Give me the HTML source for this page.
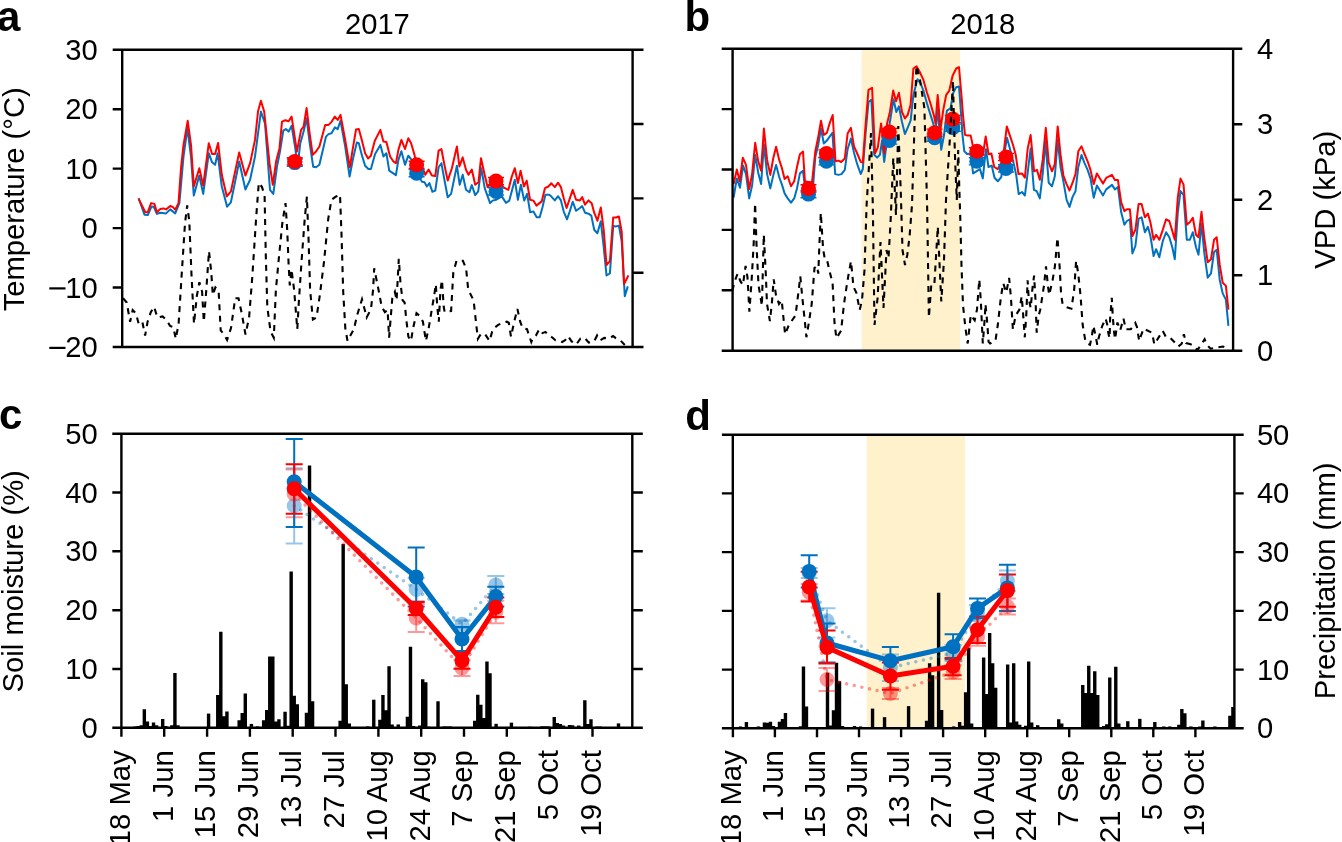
<!DOCTYPE html>
<html><head><meta charset="utf-8"><style>html,body{margin:0;padding:0;background:#fff;width:1342px;height:842px;overflow:hidden}svg{display:block;will-change:transform}</style></head>
<body><svg width="1342" height="842" viewBox="0 0 1342 842"><rect x="0" y="0" width="1342" height="842" fill="#fff"/>
<rect x="861.6" y="48.7" width="98.6" height="302.0" fill="#FEF1CC"/>
<rect x="866.7" y="434.7" width="98.3" height="293.6" fill="#FEF1CC"/>
<path d="M138.6,198.1 L144.5,214.7 L147.8,215.1 L151.6,206.4 L153.6,206.7 L156.9,213.9 L160.3,212.7 L166.1,213.4 L170.2,209.4 L175.2,213.4 L179.4,203.1 L183.5,156.5 L187.4,128.3 L191.0,156.5 L193.8,195.6 L199.3,175.6 L203.2,193.9 L208.8,153.2 L212.1,162.3 L215.1,164.8 L217.6,153.2 L221.8,186.5 L227.1,206.7 L230.9,202.3 L239.2,161.5 L245.4,189.5 L250.1,179.8 L255.0,156.5 L260.9,111.6 L265.0,123.3 L270.0,189.8 L273.3,193.9 L277.0,166.5 L280.0,151.5 L283.3,130.7 L285.8,129.1 L288.6,131.6 L291.6,125.8 L295.3,148.2 L297.4,168.2 L300.3,143.2 L303.6,131.6 L306.6,118.3 L309.7,143.2 L313.2,166.8 L316.0,167.3 L319.4,164.8 L326.0,136.6 L328.5,134.1 L331.5,133.2 L334.8,127.4 L337.7,129.1 L340.5,120.8 L345.2,146.5 L349.6,176.5 L353.1,158.2 L356.8,142.4 L358.8,143.2 L361.8,154.9 L365.1,165.7 L368.4,169.0 L370.9,169.0 L375.1,154.0 L380.4,144.9 L383.4,156.5 L386.4,153.2 L389.2,170.7 L395.9,175.1 L398.4,159.8 L401.4,151.2 L405.0,164.8 L408.3,155.7 L411.6,159.8 L416.1,171.5 L418.6,176.5 L422.0,181.8 L424.5,182.3 L426.9,186.5 L429.4,183.1 L432.4,191.8 L435.3,190.6 L438.6,167.3 L441.4,163.2 L444.4,179.8 L447.7,197.3 L451.1,193.9 L456.9,165.7 L459.7,184.8 L462.7,174.8 L466.0,189.8 L469.4,192.3 L471.8,185.1 L475.2,195.1 L478.2,191.4 L481.3,168.2 L484.7,188.1 L490.1,203.1 L492.6,200.6 L496.0,199.8 L501.8,196.4 L505.9,202.8 L509.3,200.6 L514.8,179.8 L517.9,199.8 L520.9,184.8 L524.2,200.6 L527.1,193.9 L530.1,212.2 L533.4,211.4 L536.7,217.2 L539.7,217.2 L542.5,207.2 L545.4,194.8 L549.2,194.8 L551.4,196.6 L554.8,200.4 L558.1,196.2 L560.9,200.4 L563.8,211.8 L567.0,219.4 L569.8,211.2 L572.7,201.7 L576.1,210.8 L579.9,208.0 L582.2,206.1 L585.0,212.7 L588.5,213.7 L591.3,215.6 L594.2,229.8 L597.4,233.2 L600.8,221.3 L603.7,246.9 L606.5,275.4 L609.9,273.5 L613.2,226.0 L616.0,226.4 L618.9,225.6 L621.7,241.2 L624.8,296.3 L627.8,286.4" fill="none" stroke="#0070C0" stroke-width="2" stroke-linejoin="round"/>
<path d="M138.6,198.9 L145.3,212.2 L147.8,212.2 L151.1,203.1 L154.4,203.9 L156.9,212.2 L160.3,208.9 L163.6,208.4 L166.1,209.4 L170.2,205.9 L172.7,206.9 L175.2,209.7 L178.5,203.1 L181.0,168.2 L183.5,144.9 L187.7,120.8 L191.0,144.9 L193.8,186.5 L199.3,168.2 L203.2,185.6 L208.8,143.2 L212.1,154.0 L215.1,154.0 L218.1,142.9 L221.8,174.8 L226.8,196.4 L230.9,191.4 L239.2,152.4 L245.4,175.6 L250.1,163.2 L255.0,139.9 L258.0,111.6 L260.9,100.8 L264.2,111.6 L269.5,163.2 L272.8,184.8 L276.1,161.5 L279.5,148.2 L282.0,121.6 L285.3,120.3 L288.6,121.3 L291.6,116.6 L294.4,134.9 L296.9,151.5 L301.1,129.9 L303.6,126.6 L306.6,108.0 L309.4,131.6 L312.7,154.9 L316.0,151.5 L319.4,146.5 L325.2,124.9 L328.5,124.9 L331.8,121.6 L334.8,116.6 L337.7,119.9 L340.5,114.9 L345.2,139.9 L349.8,167.3 L352.6,149.9 L356.0,129.6 L358.8,129.1 L361.8,139.9 L365.1,153.2 L368.1,158.5 L370.9,155.7 L374.8,140.7 L380.4,129.9 L383.4,141.6 L386.4,141.9 L390.1,156.5 L393.4,161.5 L395.9,163.2 L398.4,149.9 L401.4,139.9 L405.0,149.0 L408.3,138.2 L411.1,143.2 L414.5,154.9 L416.1,163.2 L422.0,166.5 L425.3,174.8 L428.6,169.5 L431.9,175.6 L435.3,176.1 L438.6,150.7 L441.4,149.0 L444.4,164.8 L447.7,180.6 L451.9,168.2 L456.9,146.5 L459.4,166.5 L462.7,157.4 L466.0,169.8 L468.5,174.8 L471.8,169.5 L475.2,184.8 L478.5,182.3 L481.0,158.2 L484.3,173.2 L487.6,187.3 L491.8,183.1 L500.1,183.1 L503.4,187.3 L508.4,189.8 L511.8,176.5 L514.8,168.2 L517.9,183.1 L520.6,170.7 L523.9,186.5 L526.7,180.6 L530.1,199.8 L533.4,200.6 L536.4,205.6 L541.7,201.4 L545.0,188.1 L548.3,186.5 L551.4,183.3 L554.8,187.1 L558.1,182.7 L560.9,187.1 L563.8,198.5 L566.6,208.0 L569.5,199.4 L572.7,189.9 L576.1,199.8 L579.9,200.4 L582.2,197.1 L585.0,204.7 L588.5,200.4 L591.7,203.2 L594.2,212.7 L597.4,220.7 L600.8,207.4 L603.7,229.8 L606.5,265.0 L609.9,261.2 L613.2,217.5 L616.0,217.5 L618.9,216.5 L621.7,231.7 L624.0,284.0 L626.5,279.2 L628.4,275.4" fill="none" stroke="#FF0000" stroke-width="2" stroke-linejoin="round"/>
<g stroke="#0070C0" stroke-width="1.4"><path d="M286.8,159.0 h16 M286.8,166.2 h16 M294.8,159.0 V166.2"/></g>
<circle cx="294.8" cy="162.6" r="7.5" fill="#0070C0"/>
<g stroke="#0070C0" stroke-width="1.4"><path d="M408.6,169.6 h16 M408.6,176.8 h16 M416.6,169.6 V176.8"/></g>
<circle cx="416.6" cy="173.2" r="7.5" fill="#0070C0"/>
<g stroke="#0070C0" stroke-width="1.4"><path d="M488.0,187.8 h16 M488.0,195.0 h16 M496.0,187.8 V195.0"/></g>
<circle cx="496.0" cy="191.4" r="7.5" fill="#0070C0"/>
<g stroke="#FF0000" stroke-width="1.4"><path d="M286.8,157.8 h16 M286.8,165.0 h16 M294.8,157.8 V165.0"/></g>
<circle cx="294.8" cy="161.4" r="7.5" fill="#FF0000"/>
<g stroke="#FF0000" stroke-width="1.4"><path d="M408.6,161.2 h16 M408.6,168.4 h16 M416.6,161.2 V168.4"/></g>
<circle cx="416.6" cy="164.8" r="7.5" fill="#FF0000"/>
<g stroke="#FF0000" stroke-width="1.4"><path d="M488.0,177.5 h16 M488.0,184.7 h16 M496.0,177.5 V184.7"/></g>
<circle cx="496.0" cy="181.1" r="7.5" fill="#FF0000"/>
<path d="M123.1,298.2 L126.7,302.5 L130.1,321.7 L132.7,310.0 L135.9,313.2 L138.7,323.8 L142.3,321.7 L145.1,335.6 L147.6,321.7 L150.8,312.1 L154.1,306.8 L157.3,317.4 L162.6,316.4 L166.9,320.6 L170.1,326.0 L173.3,327.1 L175.8,338.8 L178.6,323.8 L181.8,272.6 L185.0,223.4 L187.2,205.3 L189.3,221.3 L191.4,272.6 L194.0,323.8 L196.8,296.1 L199.4,282.2 L202.1,291.8 L203.8,321.7 L206.0,293.9 L209.0,251.2 L211.3,272.6 L212.8,295.0 L215.4,287.5 L218.6,290.7 L220.7,330.3 L224.1,334.5 L227.1,339.9 L231.0,328.1 L235.2,298.2 L238.5,298.2 L241.7,313.2 L245.5,334.5 L249.1,317.4 L252.3,276.8 L256.2,217.0 L258.8,182.8 L262.0,187.1 L264.6,195.6 L265.8,255.5 L267.3,306.8 L270.5,331.3 L273.8,337.7 L275.9,289.7 L279.1,255.5 L282.3,223.4 L285.5,203.1 L287.2,229.8 L288.7,266.2 L289.8,285.4 L291.5,269.4 L294.1,289.7 L297.3,329.2 L298.8,302.5 L301.5,261.9 L304.7,219.1 L306.9,196.7 L308.6,240.5 L310.1,289.7 L312.9,319.6 L316.5,317.4 L319.7,296.1 L324.0,261.9 L328.2,219.1 L331.4,199.9 L335.7,196.7 L340.0,194.6 L341.5,234.1 L343.2,291.8 L345.3,328.1 L347.5,340.9 L353.9,329.2 L357.1,315.3 L362.0,299.3 L366.7,317.4 L371.0,308.9 L373.1,289.7 L374.2,268.3 L378.5,289.7 L381.7,306.8 L384.9,312.1 L387.6,310.0 L389.1,337.7 L392.3,298.2 L394.9,291.8 L396.6,300.3 L398.8,258.7 L400.5,283.2 L402.6,300.3 L404.6,302.5 L406.3,319.6 L408.4,336.7 L411.0,340.9 L413.1,328.1 L416.5,313.2 L420.2,316.4 L422.9,321.7 L425.9,340.9 L428.7,328.1 L431.9,308.9 L434.1,296.1 L435.8,284.3 L437.3,306.8 L438.8,321.7 L440.5,289.7 L442.0,280.0 L443.7,306.8 L444.7,312.1 L451.1,311.0 L453.3,272.6 L456.5,260.8 L462.9,260.8 L466.1,268.3 L468.2,289.7 L470.4,293.9 L473.6,300.3 L476.4,326.0 L477.9,338.8 L481.1,333.5 L485.3,334.5 L489.6,340.9 L492.8,329.2 L498.2,324.9 L502.4,322.8 L506.7,321.7 L508.8,322.8 L511.0,336.7 L514.2,321.7 L517.4,308.9 L520.2,321.7 L522.7,328.1 L527.0,329.2 L531.3,342.0 L533.0,337.9 L535.9,335.5 L539.3,329.3 L542.5,333.1 L545.4,331.9 L547.8,334.3 L552.0,337.3 L555.5,340.3 L559.1,340.9 L562.1,342.0 L565.0,340.3 L568.0,336.1 L571.6,341.4 L576.3,344.4 L580.5,338.5 L584.6,337.9 L588.8,342.6 L594.1,341.4 L597.1,335.5 L600.1,340.3 L604.2,337.9 L609.0,338.5 L613.1,336.1 L615.5,337.9 L620.3,340.3 L624.8,345.0" fill="none" stroke="#000" stroke-width="2.1" stroke-dasharray="6 5.5"/>
<path d="M733.6,197.7 L736.8,178.4 L740.0,187.7 L743.1,165.6 L746.0,174.1 L749.2,198.4 L752.1,185.5 L755.2,154.9 L758.2,172.7 L761.1,184.1 L763.9,144.2 L767.1,174.1 L770.3,188.4 L773.2,175.6 L776.1,164.9 L779.2,177.0 L782.0,184.8 L784.6,193.4 L787.7,198.4 L791.0,202.7 L794.2,198.4 L797.0,188.4 L799.9,173.4 L803.0,170.9 L805.6,192.7 L809.8,198.4 L812.7,191.2 L815.3,157.0 L818.1,145.6 L821.0,128.5 L823.8,143.5 L826.9,140.6 L829.8,136.4 L832.4,132.8 L835.2,174.1 L838.4,174.9 L841.5,174.1 L844.8,169.9 L847.6,149.2 L850.9,138.5 L854.0,152.8 L857.2,164.2 L860.7,174.0 L862.8,169.0 L865.7,132.0 L868.5,102.0 L871.4,99.9 L874.2,154.8 L877.1,157.6 L879.9,154.8 L882.1,140.5 L884.2,161.9 L887.8,134.8 L890.6,117.7 L893.5,99.2 L896.3,112.0 L898.9,106.3 L902.0,122.0 L904.9,134.1 L907.7,127.7 L910.6,120.6 L913.4,94.9 L917.4,79.2 L920.6,83.5 L923.4,90.6 L927.0,103.5 L930.5,114.9 L934.1,126.3 L935.5,132.0 L937.7,109.2 L941.2,149.8 L944.1,134.8 L946.9,110.6 L950.5,108.4 L953.3,92.8 L956.2,87.1 L959.0,86.4 L961.9,124.8 L962.1,131.4 L964.3,151.3 L967.1,153.9 L970.7,153.5 L973.1,173.4 L976.4,171.3 L980.0,169.1 L982.8,178.4 L985.9,149.2 L988.5,167.0 L991.7,165.6 L994.5,177.7 L997.8,181.3 L1001.3,177.0 L1004.2,154.2 L1007.0,137.8 L1010.6,151.3 L1014.2,165.6 L1016.3,175.6 L1018.7,194.1 L1022.0,192.0 L1024.9,195.5 L1027.7,172.7 L1030.6,148.5 L1033.9,189.8 L1036.7,191.2 L1039.8,198.4 L1042.7,174.1 L1045.5,141.3 L1048.7,182.7 L1052.0,186.3 L1054.8,176.3 L1057.7,139.9 L1060.5,167.0 L1063.4,181.3 L1066.6,199.8 L1069.5,206.9 L1072.6,196.9 L1075.5,191.2 L1078.3,167.0 L1081.5,154.9 L1084.3,162.7 L1087.6,169.9 L1090.5,178.4 L1093.7,197.7 L1096.9,185.5 L1103.0,195.4 L1106.2,189.4 L1112.0,184.9 L1114.9,189.4 L1117.9,186.9 L1121.2,212.3 L1124.4,224.8 L1126.9,221.0 L1129.9,219.3 L1132.4,253.5 L1135.4,246.0 L1138.6,218.6 L1141.6,217.3 L1144.9,232.3 L1147.9,226.8 L1150.4,236.0 L1153.6,256.0 L1156.1,249.2 L1159.3,257.2 L1162.8,241.0 L1166.1,232.3 L1169.3,237.3 L1172.3,247.2 L1174.8,259.2 L1177.8,212.3 L1180.5,191.1 L1183.5,194.9 L1186.8,239.8 L1189.8,239.8 L1192.8,232.3 L1196.0,247.2 L1198.5,254.7 L1201.5,223.5 L1204.2,252.2 L1207.7,277.7 L1211.0,273.4 L1214.0,252.2 L1216.7,249.7 L1219.7,279.7 L1222.7,293.4 L1225.9,299.6 L1228.4,325.8" fill="none" stroke="#0070C0" stroke-width="2" stroke-linejoin="round"/>
<path d="M733.6,184.1 L736.8,169.6 L739.7,181.3 L742.8,157.7 L746.0,164.9 L749.2,189.1 L752.1,174.1 L755.2,142.8 L758.2,161.3 L761.1,170.6 L763.9,128.5 L767.1,159.9 L770.3,174.9 L773.2,158.5 L776.1,146.8 L779.2,159.9 L782.0,168.4 L784.6,179.1 L787.7,176.3 L791.0,186.3 L794.2,181.3 L797.0,167.0 L799.9,154.2 L803.0,151.6 L804.9,181.3 L812.0,182.7 L815.3,151.3 L818.1,137.8 L821.0,120.7 L823.8,134.9 L826.9,132.8 L829.8,122.8 L832.7,115.0 L835.5,161.3 L838.4,160.6 L841.2,162.0 L844.8,158.5 L847.6,133.5 L850.9,127.8 L854.0,146.3 L857.2,153.5 L860.7,161.9 L862.8,162.6 L865.7,123.4 L868.5,89.9 L872.1,87.8 L875.0,153.3 L877.8,147.6 L881.1,123.4 L884.2,153.3 L887.1,123.4 L889.9,112.0 L893.2,90.6 L896.0,101.3 L898.9,92.8 L902.0,112.0 L904.9,118.4 L907.7,114.9 L910.6,104.9 L913.4,68.5 L916.6,66.4 L919.8,72.1 L923.4,79.9 L927.0,92.8 L930.5,103.5 L934.1,116.3 L935.5,123.4 L937.7,94.9 L940.5,129.1 L943.4,109.2 L946.2,94.9 L949.3,90.6 L952.6,75.7 L956.2,68.5 L959.0,67.1 L961.9,100.6 L962.9,114.3 L965.0,134.9 L967.8,135.6 L970.7,135.6 L972.8,145.6 L976.8,151.3 L982.8,155.6 L985.7,136.4 L988.5,154.2 L991.4,153.5 L994.2,167.0 L997.8,169.1 L1002.8,159.9 L1006.8,126.4 L1009.9,135.6 L1012.8,144.2 L1015.6,154.2 L1018.5,174.1 L1022.0,173.4 L1024.9,177.7 L1027.7,148.5 L1030.6,134.9 L1034.1,171.3 L1037.0,169.9 L1039.8,179.8 L1042.7,159.9 L1045.8,127.8 L1048.7,162.7 L1052.0,171.3 L1054.8,164.2 L1057.7,126.4 L1060.5,154.2 L1063.4,175.6 L1066.6,184.1 L1069.5,190.5 L1072.6,182.7 L1075.5,174.1 L1078.3,151.3 L1081.5,146.3 L1084.3,153.5 L1087.6,161.3 L1090.5,169.9 L1093.7,184.1 L1096.9,173.4 L1103.0,183.6 L1106.2,177.9 L1112.0,174.9 L1114.9,179.9 L1117.9,179.9 L1121.2,202.3 L1124.4,211.1 L1126.9,209.3 L1129.9,209.3 L1132.4,236.0 L1135.4,229.8 L1138.6,204.1 L1141.6,204.1 L1144.9,217.3 L1147.9,213.6 L1150.4,222.3 L1153.6,239.8 L1156.1,234.8 L1159.3,239.8 L1162.8,229.8 L1166.1,219.3 L1169.3,221.0 L1172.3,231.0 L1174.8,239.8 L1177.8,197.3 L1180.5,178.6 L1183.5,184.4 L1186.8,224.8 L1189.8,222.3 L1192.8,217.8 L1196.0,234.8 L1198.5,237.3 L1201.5,211.8 L1204.2,237.3 L1207.7,262.2 L1211.0,259.2 L1214.0,239.8 L1216.7,237.3 L1219.7,264.7 L1222.7,282.7 L1225.9,285.9 L1228.4,309.6" fill="none" stroke="#FF0000" stroke-width="2" stroke-linejoin="round"/>
<g stroke="#0070C0" stroke-width="1.4"><path d="M800.5,190.5 h16 M800.5,197.7 h16 M808.5,190.5 V197.7"/></g>
<circle cx="808.5" cy="194.1" r="7.5" fill="#0070C0"/>
<g stroke="#0070C0" stroke-width="1.4"><path d="M818.4,157.7 h16 M818.4,164.9 h16 M826.4,157.7 V164.9"/></g>
<circle cx="826.4" cy="161.3" r="7.5" fill="#0070C0"/>
<g stroke="#0070C0" stroke-width="1.4"><path d="M881.3,136.9 h16 M881.3,144.1 h16 M889.3,136.9 V144.1"/></g>
<circle cx="889.3" cy="140.5" r="7.5" fill="#0070C0"/>
<g stroke="#0070C0" stroke-width="1.4"><path d="M926.6,134.1 h16 M926.6,141.3 h16 M934.6,134.1 V141.3"/></g>
<circle cx="934.6" cy="137.7" r="7.5" fill="#0070C0"/>
<g stroke="#0070C0" stroke-width="1.4"><path d="M944.8,124.1 h16 M944.8,131.3 h16 M952.8,124.1 V131.3"/></g>
<circle cx="952.8" cy="127.7" r="7.5" fill="#0070C0"/>
<g stroke="#0070C0" stroke-width="1.4"><path d="M968.8,157.7 h16 M968.8,164.9 h16 M976.8,157.7 V164.9"/></g>
<circle cx="976.8" cy="161.3" r="7.5" fill="#0070C0"/>
<g stroke="#0070C0" stroke-width="1.4"><path d="M998.0,164.8 h16 M998.0,172.0 h16 M1006.0,164.8 V172.0"/></g>
<circle cx="1006.0" cy="168.4" r="7.5" fill="#0070C0"/>
<g stroke="#FF0000" stroke-width="1.4"><path d="M800.5,184.8 h16 M800.5,192.0 h16 M808.5,184.8 V192.0"/></g>
<circle cx="808.5" cy="188.4" r="7.5" fill="#FF0000"/>
<g stroke="#FF0000" stroke-width="1.4"><path d="M818.4,149.9 h16 M818.4,157.1 h16 M826.4,149.9 V157.1"/></g>
<circle cx="826.4" cy="153.5" r="7.5" fill="#FF0000"/>
<g stroke="#FF0000" stroke-width="1.4"><path d="M881.3,128.4 h16 M881.3,135.6 h16 M889.3,128.4 V135.6"/></g>
<circle cx="889.3" cy="132.0" r="7.5" fill="#FF0000"/>
<g stroke="#FF0000" stroke-width="1.4"><path d="M926.6,129.1 h16 M926.6,136.3 h16 M934.6,129.1 V136.3"/></g>
<circle cx="934.6" cy="132.7" r="7.5" fill="#FF0000"/>
<g stroke="#FF0000" stroke-width="1.4"><path d="M944.8,115.5 h16 M944.8,122.7 h16 M952.8,115.5 V122.7"/></g>
<circle cx="952.8" cy="119.1" r="7.5" fill="#FF0000"/>
<g stroke="#FF0000" stroke-width="1.4"><path d="M968.8,147.7 h16 M968.8,154.9 h16 M976.8,147.7 V154.9"/></g>
<circle cx="976.8" cy="151.3" r="7.5" fill="#FF0000"/>
<g stroke="#FF0000" stroke-width="1.4"><path d="M998.0,153.4 h16 M998.0,160.6 h16 M1006.0,153.4 V160.6"/></g>
<circle cx="1006.0" cy="157.0" r="7.5" fill="#FF0000"/>
<path d="M732.3,290.7 L734.7,281.2 L737.6,273.6 L740.4,281.2 L742.9,285.0 L745.6,266.0 L747.5,277.4 L749.4,311.6 L751.8,277.4 L753.7,243.2 L755.1,203.3 L756.6,247.0 L758.5,285.0 L760.4,296.4 L761.9,305.9 L763.8,234.6 L765.7,271.7 L767.0,304.0 L769.9,321.1 L771.8,304.0 L773.7,279.3 L776.0,295.4 L779.0,304.0 L781.7,300.2 L785.1,334.4 L788.9,324.9 L795.5,315.4 L798.4,292.6 L800.3,276.4 L802.2,296.4 L805.0,323.0 L806.4,337.2 L808.8,323.0 L811.7,304.0 L814.5,267.9 L817.0,266.0 L818.3,273.6 L819.3,247.0 L820.8,212.8 L823.1,248.9 L825.0,260.3 L827.3,261.2 L829.7,271.7 L832.6,283.1 L834.5,323.0 L836.4,338.2 L841.1,330.6 L844.0,304.0 L846.8,285.0 L848.7,273.6 L851.0,261.2 L853.5,286.9 L856.3,292.6 L859.7,310.0 L862.0,300.0 L864.5,270.0 L866.6,205.0 L871.0,133.0 L872.8,205.0 L874.5,325.0 L877.6,298.0 L880.5,242.0 L883.5,308.0 L886.5,250.0 L888.5,258.0 L890.6,221.0 L893.3,158.0 L896.0,215.0 L898.3,126.0 L900.8,193.0 L902.5,250.0 L905.0,265.0 L907.3,255.0 L909.6,236.0 L912.0,205.0 L916.4,65.7 L920.0,80.0 L924.4,108.0 L927.1,205.0 L928.9,317.5 L931.5,282.0 L934.5,282.0 L937.8,226.7 L941.3,301.5 L944.0,260.0 L946.0,200.0 L950.0,136.6 L953.0,80.8 L954.1,128.0 L955.3,165.0 L956.8,200.0 L958.2,150.0 L959.2,185.0 L960.5,225.0 L961.5,266.0 L963.0,305.0 L965.4,328.0 L967.7,343.5 L970.8,314.9 L974.7,320.3 L977.0,309.5 L979.3,279.4 L980.8,300.3 L982.8,343.5 L984.7,318.8 L985.5,304.1 L987.0,320.3 L988.6,341.9 L990.1,343.5 L995.5,340.4 L997.8,325.0 L1000.9,297.2 L1003.2,283.3 L1006.3,292.5 L1009.1,277.9 L1010.9,297.2 L1012.9,329.6 L1015.6,315.7 L1019.4,309.5 L1021.7,296.4 L1023.0,312.6 L1024.8,337.3 L1026.4,312.6 L1027.6,280.2 L1028.7,298.7 L1030.7,308.0 L1032.5,287.9 L1034.1,275.6 L1035.6,301.8 L1036.7,332.7 L1038.7,315.7 L1040.3,309.5 L1044.1,284.8 L1046.0,266.3 L1048.0,286.4 L1049.2,294.9 L1052.6,280.2 L1054.9,266.3 L1057.5,237.7 L1059.6,266.3 L1061.1,294.1 L1062.6,304.1 L1066.5,307.2 L1071.4,308.7 L1074.2,289.5 L1076.1,260.9 L1078.1,272.5 L1080.4,294.1 L1082.7,325.0 L1085.0,338.8 L1087.3,343.5 L1090.0,344.8 L1091.7,337.0 L1093.4,325.8 L1095.6,335.9 L1097.3,344.8 L1098.9,337.0 L1102.3,325.8 L1105.6,318.6 L1107.3,324.7 L1108.4,333.6 L1109.6,338.1 L1110.1,319.1 L1111.8,297.9 L1112.9,318.0 L1114.0,331.4 L1115.1,339.2 L1117.4,322.5 L1120.2,330.3 L1123.5,318.6 L1125.8,329.2 L1130.8,329.2 L1135.3,323.0 L1136.9,326.9 L1139.2,340.9 L1140.9,335.9 L1143.6,328.6 L1149.2,331.4 L1151.5,332.5 L1153.1,338.1 L1154.3,344.3 L1158.2,338.1 L1162.7,330.9 L1166.0,337.0 L1170.5,338.1 L1173.3,340.9 L1178.3,346.5 L1181.7,343.7 L1183.9,334.2 L1186.1,343.1 L1190.6,344.3 L1192.8,345.4 L1197.3,349.9 L1200.7,345.4 L1204.6,339.2 L1206.8,344.8 L1210.7,348.7 L1216.3,347.6 L1223.0,346.5 L1229.2,348.7" fill="none" stroke="#000" stroke-width="2.1" stroke-dasharray="6 5.5"/>
<path d="M133.47,727.80 L133.47,726.42 L136.52,726.42 L136.52,726.06 L136.87,726.06 L136.87,726.06 L139.58,726.06 L139.58,725.17 L139.92,725.17 L139.92,725.17 L142.64,725.17 L142.64,709.14 L142.98,709.14 L142.98,709.14 L145.70,709.14 L145.70,709.14 L146.04,709.14 L146.04,721.61 L148.76,721.61 L148.76,721.61 L149.10,721.61 L149.10,726.06 L151.82,726.06 L151.82,722.50 L152.16,722.50 L152.16,722.50 L154.88,722.50 L154.88,722.50 L155.22,722.50 L155.22,725.17 L158.28,725.17 L158.28,727.80Z" fill="#000"/>
<path d="M161.00,727.80 L161.00,718.94 L164.06,718.94 L164.06,718.94 L164.40,718.94 L164.40,726.06 L167.46,726.06 L167.46,727.80Z" fill="#000"/>
<path d="M170.17,727.80 L170.17,725.17 L173.23,725.17 L173.23,672.98 L173.57,672.98 L173.57,672.98 L176.29,672.98 L176.29,672.98 L176.63,672.98 L176.63,725.17 L179.69,725.17 L179.69,727.80Z" fill="#000"/>
<path d="M206.88,727.80 L206.88,713.59 L210.28,713.59 L210.28,727.80Z" fill="#000"/>
<path d="M216.06,727.80 L216.06,694.89 L219.12,694.89 L219.12,631.66 L219.46,631.66 L219.46,631.66 L222.18,631.66 L222.18,631.66 L222.52,631.66 L222.52,716.27 L225.24,716.27 L225.24,711.46 L225.58,711.46 L225.58,711.46 L228.64,711.46 L228.64,727.80Z" fill="#000"/>
<path d="M237.47,727.80 L237.47,720.19 L240.53,720.19 L240.53,713.06 L240.87,713.06 L240.87,713.06 L243.59,713.06 L243.59,693.47 L243.93,693.47 L243.93,693.47 L246.99,693.47 L246.99,727.80Z" fill="#000"/>
<path d="M249.71,727.80 L249.71,723.93 L253.11,723.93 L253.11,727.80Z" fill="#000"/>
<path d="M255.83,727.80 L255.83,726.42 L259.23,726.42 L259.23,727.80Z" fill="#000"/>
<path d="M261.94,727.80 L261.94,720.36 L265.00,720.36 L265.00,710.03 L265.34,710.03 L265.34,710.03 L268.06,710.03 L268.06,656.59 L268.40,656.59 L268.40,656.59 L271.12,656.59 L271.12,656.59 L271.46,656.59 L271.46,656.59 L274.18,656.59 L274.18,656.59 L274.52,656.59 L274.52,721.61 L277.24,721.61 L277.24,719.29 L277.58,719.29 L277.58,719.29 L280.64,719.29 L280.64,727.80Z" fill="#000"/>
<path d="M283.36,727.80 L283.36,711.81 L286.42,711.81 L286.42,711.81 L286.76,711.81 L286.76,725.71 L289.47,725.71 L289.47,571.60 L289.82,571.60 L289.82,571.60 L292.53,571.60 L292.53,571.60 L292.87,571.60 L292.87,695.78 L295.59,695.78 L295.59,695.78 L295.93,695.78 L295.93,704.15 L298.99,704.15 L298.99,727.80Z" fill="#000"/>
<path d="M304.77,727.80 L304.77,712.70 L307.83,712.70 L307.83,465.60 L308.17,465.60 L308.17,465.60 L310.89,465.60 L310.89,465.60 L311.23,465.60 L311.23,701.13 L314.29,701.13 L314.29,727.80Z" fill="#000"/>
<path d="M338.42,727.80 L338.42,720.72 L341.48,720.72 L341.48,544.00 L341.82,544.00 L341.82,544.00 L344.54,544.00 L344.54,544.00 L344.88,544.00 L344.88,684.20 L347.60,684.20 L347.60,684.20 L347.94,684.20 L347.94,723.39 L351.00,723.39 L351.00,727.80Z" fill="#000"/>
<path d="M365.95,727.80 L365.95,726.42 L369.35,726.42 L369.35,727.80Z" fill="#000"/>
<path d="M372.07,727.80 L372.07,699.70 L375.47,699.70 L375.47,727.80Z" fill="#000"/>
<path d="M378.19,727.80 L378.19,719.83 L381.24,719.83 L381.24,694.89 L381.59,694.89 L381.59,694.89 L384.30,694.89 L384.30,694.89 L384.64,694.89 L384.64,710.17 L387.36,710.17 L387.36,666.22 L387.70,666.22 L387.70,666.22 L390.42,666.22 L390.42,666.22 L390.76,666.22 L390.76,724.42 L393.82,724.42 L393.82,727.80Z" fill="#000"/>
<path d="M396.54,727.80 L396.54,724.42 L399.94,724.42 L399.94,727.80Z" fill="#000"/>
<path d="M405.72,727.80 L405.72,716.70 L408.78,716.70 L408.78,646.63 L409.12,646.63 L409.12,646.63 L411.83,646.63 L411.83,646.63 L412.18,646.63 L412.18,725.96 L415.23,725.96 L415.23,727.80Z" fill="#000"/>
<path d="M417.95,727.80 L417.95,725.61 L421.01,725.61 L421.01,679.29 L421.35,679.29 L421.35,679.29 L424.07,679.29 L424.07,679.29 L424.41,679.29 L424.41,682.26 L427.13,682.26 L427.13,682.26 L427.47,682.26 L427.47,726.79 L430.53,726.79 L430.53,727.80Z" fill="#000"/>
<path d="M436.31,727.80 L436.31,701.26 L439.71,701.26 L439.71,727.80Z" fill="#000"/>
<path d="M442.42,727.80 L442.42,726.44 L445.48,726.44 L445.48,726.44 L445.82,726.44 L445.82,726.44 L448.54,726.44 L448.54,726.44 L448.88,726.44 L448.88,726.44 L451.94,726.44 L451.94,727.80Z" fill="#000"/>
<path d="M473.01,727.80 L473.01,720.86 L476.07,720.86 L476.07,694.73 L476.41,694.73 L476.41,694.73 L479.13,694.73 L479.13,694.73 L479.47,694.73 L479.47,704.82 L482.19,704.82 L482.19,704.82 L482.53,704.82 L482.53,717.89 L485.25,717.89 L485.25,661.47 L485.59,661.47 L485.59,661.47 L488.31,661.47 L488.31,661.47 L488.65,661.47 L488.65,673.35 L491.71,673.35 L491.71,727.80Z" fill="#000"/>
<path d="M494.43,727.80 L494.43,723.82 L497.83,723.82 L497.83,727.80Z" fill="#000"/>
<path d="M509.72,727.80 L509.72,722.64 L513.12,722.64 L513.12,727.80Z" fill="#000"/>
<path d="M528.08,727.80 L528.08,726.71 L531.48,726.71 L531.48,727.80Z" fill="#000"/>
<path d="M540.31,727.80 L540.31,726.32 L543.37,726.32 L543.37,726.32 L543.71,726.32 L543.71,726.32 L546.43,726.32 L546.43,726.32 L546.77,726.32 L546.77,726.32 L549.83,726.32 L549.83,727.80Z" fill="#000"/>
<path d="M552.55,727.80 L552.55,717.11 L555.61,717.11 L555.61,717.11 L555.95,717.11 L555.95,723.12 L558.67,723.12 L558.67,723.12 L559.01,723.12 L559.01,724.09 L561.73,724.09 L561.73,724.09 L562.07,724.09 L562.07,725.54 L565.13,725.54 L565.13,727.80Z" fill="#000"/>
<path d="M567.84,727.80 L567.84,725.06 L570.90,725.06 L570.90,725.06 L571.24,725.06 L571.24,725.35 L574.30,725.35 L574.30,727.80Z" fill="#000"/>
<path d="M577.02,727.80 L577.02,725.54 L580.42,725.54 L580.42,727.80Z" fill="#000"/>
<path d="M583.14,727.80 L583.14,700.35 L586.20,700.35 L586.20,700.35 L586.54,700.35 L586.54,724.09 L589.26,724.09 L589.26,719.24 L589.60,719.24 L589.60,719.24 L592.66,719.24 L592.66,727.80Z" fill="#000"/>
<path d="M595.37,727.80 L595.37,726.51 L598.43,726.51 L598.43,726.51 L598.77,726.51 L598.77,726.51 L601.83,726.51 L601.83,727.80Z" fill="#000"/>
<path d="M616.79,727.80 L616.79,723.41 L620.19,723.41 L620.19,727.80Z" fill="#000"/>
<path d="M294.2,505.7 L416.2,589.5 L462.0,624.2 L495.8,585.0" fill="none" stroke="#0070C0" stroke-opacity="0.4" stroke-width="3.6" stroke-linecap="round" stroke-dasharray="0 7.8"/>
<path d="M294.2,494.0 L416.2,618.0 L462.0,668.0 L495.8,612.0" fill="none" stroke="#FF0000" stroke-opacity="0.4" stroke-width="3.6" stroke-linecap="round" stroke-dasharray="0 7.8"/>
<path d="M285.7,468.3 h17 M285.7,543.6 h17 M294.2,468.3 V543.6" stroke="#0070C0" stroke-width="2" stroke-opacity="0.4"/>
<path d="M407.7,578.0 h17 M407.7,601.0 h17 M416.2,578.0 V601.0" stroke="#0070C0" stroke-width="2" stroke-opacity="0.4"/>
<path d="M453.5,620.6 h17 M453.5,627.8 h17 M462.0,620.6 V627.8" stroke="#0070C0" stroke-width="2" stroke-opacity="0.4"/>
<path d="M487.3,576.1 h17 M487.3,593.9 h17 M495.8,576.1 V593.9" stroke="#0070C0" stroke-width="2" stroke-opacity="0.4"/>
<path d="M285.7,469.5 h17 M285.7,517.3 h17 M294.2,469.5 V517.3" stroke="#FF0000" stroke-width="2" stroke-opacity="0.4"/>
<path d="M407.7,604.1 h17 M407.7,631.9 h17 M416.2,604.1 V631.9" stroke="#FF0000" stroke-width="2" stroke-opacity="0.4"/>
<path d="M453.5,660.0 h17 M453.5,676.0 h17 M462.0,660.0 V676.0" stroke="#FF0000" stroke-width="2" stroke-opacity="0.4"/>
<path d="M487.3,600.7 h17 M487.3,623.3 h17 M495.8,600.7 V623.3" stroke="#FF0000" stroke-width="2" stroke-opacity="0.4"/>
<path d="M285.7,438.9 h17 M285.7,527.1 h17 M294.2,438.9 V527.1" stroke="#0070C0" stroke-width="2" stroke-opacity="1"/>
<path d="M407.7,547.6 h17 M407.7,606.4 h17 M416.2,547.6 V606.4" stroke="#0070C0" stroke-width="2" stroke-opacity="1"/>
<path d="M453.5,627.0 h17 M453.5,651.0 h17 M462.0,627.0 V651.0" stroke="#0070C0" stroke-width="2" stroke-opacity="1"/>
<path d="M487.3,586.8 h17 M487.3,606.4 h17 M495.8,586.8 V606.4" stroke="#0070C0" stroke-width="2" stroke-opacity="1"/>
<path d="M285.7,464.2 h17 M285.7,513.7 h17 M294.2,464.2 V513.7" stroke="#FF0000" stroke-width="2" stroke-opacity="1"/>
<path d="M407.7,601.9 h17 M407.7,615.1 h17 M416.2,601.9 V615.1" stroke="#FF0000" stroke-width="2" stroke-opacity="1"/>
<path d="M453.5,652.7 h17 M453.5,668.7 h17 M462.0,652.7 V668.7" stroke="#FF0000" stroke-width="2" stroke-opacity="1"/>
<path d="M487.3,597.5 h17 M487.3,617.1 h17 M495.8,597.5 V617.1" stroke="#FF0000" stroke-width="2" stroke-opacity="1"/>
<circle cx="294.2" cy="505.7" r="7.5" fill="#0070C0" fill-opacity="0.4"/>
<circle cx="416.2" cy="589.5" r="7.5" fill="#0070C0" fill-opacity="0.4"/>
<circle cx="462.0" cy="624.2" r="7.5" fill="#0070C0" fill-opacity="0.4"/>
<circle cx="495.8" cy="585.0" r="7.5" fill="#0070C0" fill-opacity="0.4"/>
<circle cx="294.2" cy="494.0" r="7.5" fill="#FF0000" fill-opacity="0.4"/>
<circle cx="416.2" cy="618.0" r="7.5" fill="#FF0000" fill-opacity="0.4"/>
<circle cx="462.0" cy="668.0" r="7.5" fill="#FF0000" fill-opacity="0.4"/>
<circle cx="495.8" cy="612.0" r="7.5" fill="#FF0000" fill-opacity="0.4"/>
<path d="M294.2,481.7 L416.2,577.0 L462.0,639.0 L495.8,596.6" fill="none" stroke="#0070C0" stroke-width="5" stroke-linejoin="round"/>
<circle cx="294.2" cy="481.7" r="7.5" fill="#0070C0"/>
<circle cx="416.2" cy="577.0" r="7.5" fill="#0070C0"/>
<circle cx="462.0" cy="639.0" r="7.5" fill="#0070C0"/>
<circle cx="495.8" cy="596.6" r="7.5" fill="#0070C0"/>
<path d="M294.2,488.8 L416.2,608.5 L462.0,660.7 L495.8,607.3" fill="none" stroke="#FF0000" stroke-width="5" stroke-linejoin="round"/>
<circle cx="294.2" cy="488.8" r="7.5" fill="#FF0000"/>
<circle cx="416.2" cy="608.5" r="7.5" fill="#FF0000"/>
<circle cx="462.0" cy="660.7" r="7.5" fill="#FF0000"/>
<circle cx="495.8" cy="607.3" r="7.5" fill="#FF0000"/>
<path d="M738.71,728.30 L738.71,726.44 L742.11,726.44 L742.11,728.30Z" fill="#000"/>
<path d="M744.71,728.30 L744.71,722.04 L748.11,722.04 L748.11,728.30Z" fill="#000"/>
<path d="M756.73,728.30 L756.73,726.44 L760.13,726.44 L760.13,728.30Z" fill="#000"/>
<path d="M762.73,728.30 L762.73,722.40 L765.73,722.40 L765.73,722.40 L766.13,722.40 L766.13,722.87 L768.74,722.87 L768.74,721.81 L769.13,721.81 L769.13,721.81 L771.74,721.81 L771.74,721.81 L772.14,721.81 L772.14,725.96 L775.14,725.96 L775.14,728.30Z" fill="#000"/>
<path d="M777.75,728.30 L777.75,721.69 L780.75,721.69 L780.75,719.07 L781.15,719.07 L781.15,719.07 L783.75,719.07 L783.75,712.90 L784.15,712.90 L784.15,712.90 L787.15,712.90 L787.15,728.30Z" fill="#000"/>
<path d="M798.77,728.30 L798.77,726.20 L801.77,726.20 L801.77,666.58 L802.17,666.58 L802.17,666.58 L804.77,666.58 L804.77,666.58 L805.17,666.58 L805.17,706.60 L808.17,706.60 L808.17,728.30Z" fill="#000"/>
<path d="M825.79,728.30 L825.79,672.76 L828.80,672.76 L828.80,672.76 L829.19,672.76 L829.19,725.61 L831.80,725.61 L831.80,710.17 L832.20,710.17 L832.20,710.17 L834.80,710.17 L834.80,662.66 L835.20,662.66 L835.20,662.66 L837.81,662.66 L837.81,662.66 L838.20,662.66 L838.20,681.31 L840.81,681.31 L840.81,681.31 L841.21,681.31 L841.21,725.96 L844.21,725.96 L844.21,728.30Z" fill="#000"/>
<path d="M852.82,728.30 L852.82,725.96 L856.22,725.96 L856.22,728.30Z" fill="#000"/>
<path d="M858.83,728.30 L858.83,726.44 L862.23,726.44 L862.23,728.30Z" fill="#000"/>
<path d="M870.84,728.30 L870.84,708.61 L874.24,708.61 L874.24,728.30Z" fill="#000"/>
<path d="M882.85,728.30 L882.85,717.16 L886.25,717.16 L886.25,728.30Z" fill="#000"/>
<path d="M906.88,728.30 L906.88,706.11 L910.28,706.11 L910.28,728.30Z" fill="#000"/>
<path d="M924.89,728.30 L924.89,720.72 L927.90,720.72 L927.90,663.36 L928.29,663.36 L928.29,663.36 L930.90,663.36 L930.90,663.36 L931.30,663.36 L931.30,675.30 L934.30,675.30 L934.30,728.30Z" fill="#000"/>
<path d="M936.91,728.30 L936.91,592.83 L939.91,592.83 L939.91,592.83 L940.31,592.83 L940.31,710.03 L943.31,710.03 L943.31,728.30Z" fill="#000"/>
<path d="M951.92,728.30 L951.92,726.42 L955.32,726.42 L955.32,728.30Z" fill="#000"/>
<path d="M957.93,728.30 L957.93,721.97 L960.93,721.97 L960.93,721.97 L961.33,721.97 L961.33,725.71 L963.93,725.71 L963.93,692.22 L964.33,692.22 L964.33,692.22 L966.94,692.22 L966.94,647.69 L967.33,647.69 L967.33,647.69 L969.94,647.69 L969.94,647.69 L970.34,647.69 L970.34,723.39 L973.34,723.39 L973.34,728.30Z" fill="#000"/>
<path d="M981.95,728.30 L981.95,657.48 L984.95,657.48 L984.95,657.48 L985.35,657.48 L985.35,694.00 L987.96,694.00 L987.96,632.90 L988.35,632.90 L988.35,632.90 L990.96,632.90 L990.96,632.90 L991.36,632.90 L991.36,663.36 L993.96,663.36 L993.96,663.36 L994.36,663.36 L994.36,687.77 L997.36,687.77 L997.36,728.30Z" fill="#000"/>
<path d="M1005.97,728.30 L1005.97,664.61 L1008.98,664.61 L1008.98,664.61 L1009.37,664.61 L1009.37,722.50 L1011.98,722.50 L1011.98,663.36 L1012.38,663.36 L1012.38,663.36 L1014.98,663.36 L1014.98,663.36 L1015.38,663.36 L1015.38,721.61 L1017.99,721.61 L1017.99,721.61 L1018.38,721.61 L1018.38,724.64 L1021.39,724.64 L1021.39,728.30Z" fill="#000"/>
<path d="M1023.99,728.30 L1023.99,725.71 L1027.00,725.71 L1027.00,661.40 L1027.39,661.40 L1027.39,661.40 L1030.00,661.40 L1030.00,661.40 L1030.40,661.40 L1030.40,722.50 L1033.40,722.50 L1033.40,728.30Z" fill="#000"/>
<path d="M1036.00,728.30 L1036.00,725.17 L1039.40,725.17 L1039.40,728.30Z" fill="#000"/>
<path d="M1057.03,728.30 L1057.03,719.29 L1060.03,719.29 L1060.03,719.29 L1060.43,719.29 L1060.43,723.39 L1063.43,723.39 L1063.43,728.30Z" fill="#000"/>
<path d="M1081.05,728.30 L1081.05,685.09 L1084.05,685.09 L1084.05,685.09 L1084.45,685.09 L1084.45,693.11 L1087.06,693.11 L1087.06,665.86 L1087.45,665.86 L1087.45,665.86 L1090.06,665.86 L1090.06,665.86 L1090.46,665.86 L1090.46,693.11 L1093.06,693.11 L1093.06,671.20 L1093.46,671.20 L1093.46,671.20 L1096.06,671.20 L1096.06,671.20 L1096.46,671.20 L1096.46,694.89 L1099.46,694.89 L1099.46,728.30Z" fill="#000"/>
<path d="M1102.07,728.30 L1102.07,726.06 L1105.07,726.06 L1105.07,724.28 L1105.47,724.28 L1105.47,724.28 L1108.08,724.28 L1108.08,677.61 L1108.47,677.61 L1108.47,677.61 L1111.48,677.61 L1111.48,728.30Z" fill="#000"/>
<path d="M1114.08,728.30 L1114.08,666.75 L1117.09,666.75 L1117.09,666.75 L1117.48,666.75 L1117.48,723.39 L1120.49,723.39 L1120.49,728.30Z" fill="#000"/>
<path d="M1126.09,728.30 L1126.09,721.21 L1129.49,721.21 L1129.49,728.30Z" fill="#000"/>
<path d="M1138.11,728.30 L1138.11,718.84 L1141.51,718.84 L1141.51,728.30Z" fill="#000"/>
<path d="M1153.12,728.30 L1153.12,722.04 L1156.52,722.04 L1156.52,728.30Z" fill="#000"/>
<path d="M1162.13,728.30 L1162.13,726.44 L1165.53,726.44 L1165.53,728.30Z" fill="#000"/>
<path d="M1168.14,728.30 L1168.14,726.44 L1171.54,726.44 L1171.54,728.30Z" fill="#000"/>
<path d="M1177.15,728.30 L1177.15,724.77 L1180.15,724.77 L1180.15,708.98 L1180.55,708.98 L1180.55,708.98 L1183.15,708.98 L1183.15,708.98 L1183.55,708.98 L1183.55,713.14 L1186.55,713.14 L1186.55,728.30Z" fill="#000"/>
<path d="M1189.16,728.30 L1189.16,726.44 L1192.56,726.44 L1192.56,728.30Z" fill="#000"/>
<path d="M1198.17,728.30 L1198.17,726.44 L1201.17,726.44 L1201.17,720.50 L1201.57,720.50 L1201.57,720.50 L1204.57,720.50 L1204.57,728.30Z" fill="#000"/>
<path d="M1213.18,728.30 L1213.18,726.44 L1216.58,726.44 L1216.58,728.30Z" fill="#000"/>
<path d="M1228.20,728.30 L1228.20,715.75 L1231.20,715.75 L1231.20,706.96 L1231.60,706.96 L1231.60,706.96 L1234.60,706.96 L1234.60,728.30Z" fill="#000"/>
<path d="M809.2,573.0 L827.0,620.7 L890.4,667.8 L953.1,653.0 L977.5,613.0 L1007.4,580.8" fill="none" stroke="#0070C0" stroke-opacity="0.4" stroke-width="3.6" stroke-linecap="round" stroke-dasharray="0 7.8"/>
<path d="M809.2,592.2 L827.0,679.5 L890.4,693.5 L953.1,672.0 L977.5,636.9 L1007.4,606.6" fill="none" stroke="#FF0000" stroke-opacity="0.4" stroke-width="3.6" stroke-linecap="round" stroke-dasharray="0 7.8"/>
<path d="M800.7,568.0 h17 M800.7,578.0 h17 M809.2,568.0 V578.0" stroke="#0070C0" stroke-width="2" stroke-opacity="0.4"/>
<path d="M818.5,608.2 h17 M818.5,637.6 h17 M827.0,608.2 V637.6" stroke="#0070C0" stroke-width="2" stroke-opacity="0.4"/>
<path d="M881.9,654.6 h17 M881.9,681.0 h17 M890.4,654.6 V681.0" stroke="#0070C0" stroke-width="2" stroke-opacity="0.4"/>
<path d="M944.6,645.0 h17 M944.6,661.0 h17 M953.1,645.0 V661.0" stroke="#0070C0" stroke-width="2" stroke-opacity="0.4"/>
<path d="M969.0,605.0 h17 M969.0,621.0 h17 M977.5,605.0 V621.0" stroke="#0070C0" stroke-width="2" stroke-opacity="0.4"/>
<path d="M998.9,570.6 h17 M998.9,591.0 h17 M1007.4,570.6 V591.0" stroke="#0070C0" stroke-width="2" stroke-opacity="0.4"/>
<path d="M800.7,584.0 h17 M800.7,600.4 h17 M809.2,584.0 V600.4" stroke="#FF0000" stroke-width="2" stroke-opacity="0.4"/>
<path d="M818.5,668.0 h17 M818.5,691.0 h17 M827.0,668.0 V691.0" stroke="#FF0000" stroke-width="2" stroke-opacity="0.4"/>
<path d="M881.9,688.0 h17 M881.9,699.0 h17 M890.4,688.0 V699.0" stroke="#FF0000" stroke-width="2" stroke-opacity="0.4"/>
<path d="M944.6,665.0 h17 M944.6,679.0 h17 M953.1,665.0 V679.0" stroke="#FF0000" stroke-width="2" stroke-opacity="0.4"/>
<path d="M969.0,628.0 h17 M969.0,645.8 h17 M977.5,628.0 V645.8" stroke="#FF0000" stroke-width="2" stroke-opacity="0.4"/>
<path d="M998.9,598.6 h17 M998.9,614.6 h17 M1007.4,598.6 V614.6" stroke="#FF0000" stroke-width="2" stroke-opacity="0.4"/>
<path d="M800.7,555.3 h17 M800.7,587.4 h17 M809.2,555.3 V587.4" stroke="#0070C0" stroke-width="2" stroke-opacity="1"/>
<path d="M818.5,623.4 h17 M818.5,662.6 h17 M827.0,623.4 V662.6" stroke="#0070C0" stroke-width="2" stroke-opacity="1"/>
<path d="M881.9,647.1 h17 M881.9,674.3 h17 M890.4,647.1 V674.3" stroke="#0070C0" stroke-width="2" stroke-opacity="1"/>
<path d="M944.6,634.2 h17 M944.6,659.2 h17 M953.1,634.2 V659.2" stroke="#0070C0" stroke-width="2" stroke-opacity="1"/>
<path d="M969.0,598.6 h17 M969.0,618.2 h17 M977.5,598.6 V618.2" stroke="#0070C0" stroke-width="2" stroke-opacity="1"/>
<path d="M998.9,564.7 h17 M998.9,611.1 h17 M1007.4,564.7 V611.1" stroke="#0070C0" stroke-width="2" stroke-opacity="1"/>
<path d="M800.7,571.7 h17 M800.7,601.6 h17 M809.2,571.7 V601.6" stroke="#FF0000" stroke-width="2" stroke-opacity="1"/>
<path d="M818.5,630.5 h17 M818.5,663.5 h17 M827.0,630.5 V663.5" stroke="#FF0000" stroke-width="2" stroke-opacity="1"/>
<path d="M881.9,662.5 h17 M881.9,689.7 h17 M890.4,662.5 V689.7" stroke="#FF0000" stroke-width="2" stroke-opacity="1"/>
<path d="M944.6,657.9 h17 M944.6,675.2 h17 M953.1,657.9 V675.2" stroke="#FF0000" stroke-width="2" stroke-opacity="1"/>
<path d="M969.0,616.4 h17 M969.0,643.1 h17 M977.5,616.4 V643.1" stroke="#FF0000" stroke-width="2" stroke-opacity="1"/>
<path d="M998.9,574.5 h17 M998.9,606.7 h17 M1007.4,574.5 V606.7" stroke="#FF0000" stroke-width="2" stroke-opacity="1"/>
<circle cx="809.2" cy="573.0" r="7.5" fill="#0070C0" fill-opacity="0.4"/>
<circle cx="827.0" cy="620.7" r="7.5" fill="#0070C0" fill-opacity="0.4"/>
<circle cx="890.4" cy="667.8" r="7.5" fill="#0070C0" fill-opacity="0.4"/>
<circle cx="953.1" cy="653.0" r="7.5" fill="#0070C0" fill-opacity="0.4"/>
<circle cx="977.5" cy="613.0" r="7.5" fill="#0070C0" fill-opacity="0.4"/>
<circle cx="1007.4" cy="580.8" r="7.5" fill="#0070C0" fill-opacity="0.4"/>
<circle cx="809.2" cy="592.2" r="7.5" fill="#FF0000" fill-opacity="0.4"/>
<circle cx="827.0" cy="679.5" r="7.5" fill="#FF0000" fill-opacity="0.4"/>
<circle cx="890.4" cy="693.5" r="7.5" fill="#FF0000" fill-opacity="0.4"/>
<circle cx="953.1" cy="672.0" r="7.5" fill="#FF0000" fill-opacity="0.4"/>
<circle cx="977.5" cy="636.9" r="7.5" fill="#FF0000" fill-opacity="0.4"/>
<circle cx="1007.4" cy="606.6" r="7.5" fill="#FF0000" fill-opacity="0.4"/>
<path d="M809.2,571.4 L827.0,643.0 L890.4,660.7 L953.1,646.7 L977.5,608.4 L1007.4,587.9" fill="none" stroke="#0070C0" stroke-width="5" stroke-linejoin="round"/>
<circle cx="809.2" cy="571.4" r="7.5" fill="#0070C0"/>
<circle cx="827.0" cy="643.0" r="7.5" fill="#0070C0"/>
<circle cx="890.4" cy="660.7" r="7.5" fill="#0070C0"/>
<circle cx="953.1" cy="646.7" r="7.5" fill="#0070C0"/>
<circle cx="977.5" cy="608.4" r="7.5" fill="#0070C0"/>
<circle cx="1007.4" cy="587.9" r="7.5" fill="#0070C0"/>
<path d="M809.2,586.9 L827.0,647.4 L890.4,676.0 L953.1,666.3 L977.5,629.8 L1007.4,590.6" fill="none" stroke="#FF0000" stroke-width="5" stroke-linejoin="round"/>
<circle cx="809.2" cy="586.9" r="7.5" fill="#FF0000"/>
<circle cx="827.0" cy="647.4" r="7.5" fill="#FF0000"/>
<circle cx="890.4" cy="676.0" r="7.5" fill="#FF0000"/>
<circle cx="953.1" cy="666.3" r="7.5" fill="#FF0000"/>
<circle cx="977.5" cy="629.8" r="7.5" fill="#FF0000"/>
<circle cx="1007.4" cy="590.6" r="7.5" fill="#FF0000"/>
<path d="M112.7,49.7 H643.5 M112.7,347.0 H643.5 M122.2,49.7 V347.0 M632.6,49.7 V347.0 M112.7,49.7 H122.2 M112.7,109.2 H122.2 M112.7,168.6 H122.2 M112.7,228.1 H122.2 M112.7,287.5 H122.2 M112.7,347.0 H122.2 M632.6,49.7 H643.5 M632.6,124.0 H643.5 M632.6,198.4 H643.5 M632.6,272.7 H643.5 M632.6,347.0 H643.5" stroke="#000" stroke-width="2.4" fill="none" stroke-linecap="butt"/>
<path d="M721.7,48.7 H1242.3 M721.7,350.7 H1242.3 M732.6,48.7 V350.7 M1233.1,48.7 V350.7 M721.7,48.7 H732.6 M721.7,109.1 H732.6 M721.7,169.5 H732.6 M721.7,229.9 H732.6 M721.7,290.3 H732.6 M721.7,350.7 H732.6 M1233.1,48.7 H1242.3 M1233.1,124.2 H1242.3 M1233.1,199.7 H1242.3 M1233.1,275.2 H1242.3 M1233.1,350.7 H1242.3" stroke="#000" stroke-width="2.4" fill="none" stroke-linecap="butt"/>
<path d="M112.3,433.7 H642.8 M112.3,727.8 H642.8 M121.4,433.7 V727.8 M632.3,433.7 V727.8 M112.3,433.7 H121.4 M112.3,492.5 H121.4 M112.3,551.3 H121.4 M112.3,610.2 H121.4 M112.3,669.0 H121.4 M112.3,727.8 H121.4 M632.3,433.7 H642.8 M632.3,492.5 H642.8 M632.3,551.3 H642.8 M632.3,610.2 H642.8 M632.3,669.0 H642.8 M632.3,727.8 H642.8 M121.4,727.8 V736.8 M164.2,727.8 V736.8 M207.1,727.8 V736.8 M249.9,727.8 V736.8 M292.7,727.8 V736.8 M335.5,727.8 V736.8 M378.4,727.8 V736.8 M421.2,727.8 V736.8 M464.0,727.8 V736.8 M506.8,727.8 V736.8 M549.7,727.8 V736.8 M592.5,727.8 V736.8" stroke="#000" stroke-width="2.4" fill="none" stroke-linecap="butt"/>
<path d="M721.9,434.7 H1243.7 M721.9,728.3 H1243.7 M732.8,434.7 V728.3 M1234.4,434.7 V728.3 M721.9,434.7 H732.8 M721.9,493.4 H732.8 M721.9,552.1 H732.8 M721.9,610.9 H732.8 M721.9,669.6 H732.8 M721.9,728.3 H732.8 M1234.4,434.7 H1243.7 M1234.4,493.4 H1243.7 M1234.4,552.1 H1243.7 M1234.4,610.9 H1243.7 M1234.4,669.6 H1243.7 M1234.4,728.3 H1243.7 M732.9,728.3 V737.3 M774.9,728.3 V737.3 M817.0,728.3 V737.3 M859.0,728.3 V737.3 M901.1,728.3 V737.3 M943.1,728.3 V737.3 M985.2,728.3 V737.3 M1027.2,728.3 V737.3 M1069.2,728.3 V737.3 M1111.3,728.3 V737.3 M1153.3,728.3 V737.3 M1195.4,728.3 V737.3" stroke="#000" stroke-width="2.4" fill="none" stroke-linecap="butt"/><g font-family='"Liberation Sans", sans-serif' fill="#000"><text x="-3.0" y="30.8" font-size="42" text-anchor="start" font-weight="bold">a</text>
<text x="684.5" y="30.6" font-size="42" text-anchor="start" font-weight="bold">b</text>
<text x="-1.0" y="429.4" font-size="42" text-anchor="start" font-weight="bold">c</text>
<text x="685.3" y="429.5" font-size="42" text-anchor="start" font-weight="bold">d</text>
<text x="377.4" y="33.6" font-size="29.2" text-anchor="middle" font-weight="normal">2017</text>
<text x="982.8" y="33.9" font-size="29.2" text-anchor="middle" font-weight="normal">2018</text>
<text x="97.7" y="59.8" font-size="29.2" text-anchor="end" font-weight="normal">30</text>
<text x="97.7" y="119.3" font-size="29.2" text-anchor="end" font-weight="normal">20</text>
<text x="97.7" y="178.7" font-size="29.2" text-anchor="end" font-weight="normal">10</text>
<text x="97.7" y="238.2" font-size="29.2" text-anchor="end" font-weight="normal">0</text>
<text x="97.7" y="297.6" font-size="29.2" text-anchor="end" font-weight="normal">10</text>
<path d="M49.3,288.4 H65.5" stroke="#000" stroke-width="2.2"/>
<text x="97.7" y="357.1" font-size="29.2" text-anchor="end" font-weight="normal">20</text>
<path d="M49.3,347.9 H65.5" stroke="#000" stroke-width="2.2"/>
<text x="1256.9" y="58.7" font-size="29.2" text-anchor="start" font-weight="normal">4</text>
<text x="1256.9" y="134.2" font-size="29.2" text-anchor="start" font-weight="normal">3</text>
<text x="1256.9" y="209.7" font-size="29.2" text-anchor="start" font-weight="normal">2</text>
<text x="1256.9" y="285.2" font-size="29.2" text-anchor="start" font-weight="normal">1</text>
<text x="1256.9" y="360.7" font-size="29.2" text-anchor="start" font-weight="normal">0</text>
<text x="97.7" y="443.8" font-size="29.2" text-anchor="end" font-weight="normal">50</text>
<text x="97.7" y="502.6" font-size="29.2" text-anchor="end" font-weight="normal">40</text>
<text x="97.7" y="561.4" font-size="29.2" text-anchor="end" font-weight="normal">30</text>
<text x="97.7" y="620.3" font-size="29.2" text-anchor="end" font-weight="normal">20</text>
<text x="97.7" y="679.1" font-size="29.2" text-anchor="end" font-weight="normal">10</text>
<text x="97.7" y="737.9" font-size="29.2" text-anchor="end" font-weight="normal">0</text>
<text x="1256.9" y="444.7" font-size="29.2" text-anchor="start" font-weight="normal">50</text>
<text x="1256.9" y="503.4" font-size="29.2" text-anchor="start" font-weight="normal">40</text>
<text x="1256.9" y="562.1" font-size="29.2" text-anchor="start" font-weight="normal">30</text>
<text x="1256.9" y="620.9" font-size="29.2" text-anchor="start" font-weight="normal">20</text>
<text x="1256.9" y="679.6" font-size="29.2" text-anchor="start" font-weight="normal">10</text>
<text x="1256.9" y="738.3" font-size="29.2" text-anchor="start" font-weight="normal">0</text>
<text x="23.8" y="199.3" font-size="29.2" text-anchor="middle" font-weight="normal" transform="rotate(-90 23.8 199.3)">Temperature (°C)</text>
<text x="23.3" y="581.3" font-size="29.2" text-anchor="middle" font-weight="normal" transform="rotate(-90 23.3 581.3)">Soil moisture (%)</text>
<text x="1335.5" y="199.7" font-size="29.2" text-anchor="middle" font-weight="normal" transform="rotate(-90 1335.5 199.7)">VPD (kPa)</text>
<text x="1335.5" y="580.8" font-size="29.2" text-anchor="middle" font-weight="normal" transform="rotate(-90 1335.5 580.8)">Precipitation (mm)</text>
<text x="129.8" y="750.2" font-size="29.3" text-anchor="end" font-weight="normal" transform="rotate(-90 129.8 750.2)">18 May</text>
<text x="172.6" y="750.2" font-size="29.3" text-anchor="end" font-weight="normal" transform="rotate(-90 172.6 750.2)">1 Jun</text>
<text x="215.5" y="750.2" font-size="29.3" text-anchor="end" font-weight="normal" transform="rotate(-90 215.5 750.2)">15 Jun</text>
<text x="258.3" y="750.2" font-size="29.3" text-anchor="end" font-weight="normal" transform="rotate(-90 258.3 750.2)">29 Jun</text>
<text x="301.1" y="750.2" font-size="29.3" text-anchor="end" font-weight="normal" transform="rotate(-90 301.1 750.2)">13 Jul</text>
<text x="343.9" y="750.2" font-size="29.3" text-anchor="end" font-weight="normal" transform="rotate(-90 343.9 750.2)">27 Jul</text>
<text x="386.8" y="750.2" font-size="29.3" text-anchor="end" font-weight="normal" transform="rotate(-90 386.8 750.2)">10 Aug</text>
<text x="429.6" y="750.2" font-size="29.3" text-anchor="end" font-weight="normal" transform="rotate(-90 429.6 750.2)">24 Aug</text>
<text x="472.4" y="750.2" font-size="29.3" text-anchor="end" font-weight="normal" transform="rotate(-90 472.4 750.2)">7 Sep</text>
<text x="515.2" y="750.2" font-size="29.3" text-anchor="end" font-weight="normal" transform="rotate(-90 515.2 750.2)">21 Sep</text>
<text x="558.1" y="750.2" font-size="29.3" text-anchor="end" font-weight="normal" transform="rotate(-90 558.1 750.2)">5 Oct</text>
<text x="600.9" y="750.2" font-size="29.3" text-anchor="end" font-weight="normal" transform="rotate(-90 600.9 750.2)">19 Oct</text>
<text x="741.3" y="750.2" font-size="29.3" text-anchor="end" font-weight="normal" transform="rotate(-90 741.3 750.2)">18 May</text>
<text x="783.3" y="750.2" font-size="29.3" text-anchor="end" font-weight="normal" transform="rotate(-90 783.3 750.2)">1 Jun</text>
<text x="825.4" y="750.2" font-size="29.3" text-anchor="end" font-weight="normal" transform="rotate(-90 825.4 750.2)">15 Jun</text>
<text x="867.4" y="750.2" font-size="29.3" text-anchor="end" font-weight="normal" transform="rotate(-90 867.4 750.2)">29 Jun</text>
<text x="909.5" y="750.2" font-size="29.3" text-anchor="end" font-weight="normal" transform="rotate(-90 909.5 750.2)">13 Jul</text>
<text x="951.5" y="750.2" font-size="29.3" text-anchor="end" font-weight="normal" transform="rotate(-90 951.5 750.2)">27 Jul</text>
<text x="993.6" y="750.2" font-size="29.3" text-anchor="end" font-weight="normal" transform="rotate(-90 993.6 750.2)">10 Aug</text>
<text x="1035.6" y="750.2" font-size="29.3" text-anchor="end" font-weight="normal" transform="rotate(-90 1035.6 750.2)">24 Aug</text>
<text x="1077.6" y="750.2" font-size="29.3" text-anchor="end" font-weight="normal" transform="rotate(-90 1077.6 750.2)">7 Sep</text>
<text x="1119.7" y="750.2" font-size="29.3" text-anchor="end" font-weight="normal" transform="rotate(-90 1119.7 750.2)">21 Sep</text>
<text x="1161.7" y="750.2" font-size="29.3" text-anchor="end" font-weight="normal" transform="rotate(-90 1161.7 750.2)">5 Oct</text>
<text x="1203.8" y="750.2" font-size="29.3" text-anchor="end" font-weight="normal" transform="rotate(-90 1203.8 750.2)">19 Oct</text></g></svg></body></html>
